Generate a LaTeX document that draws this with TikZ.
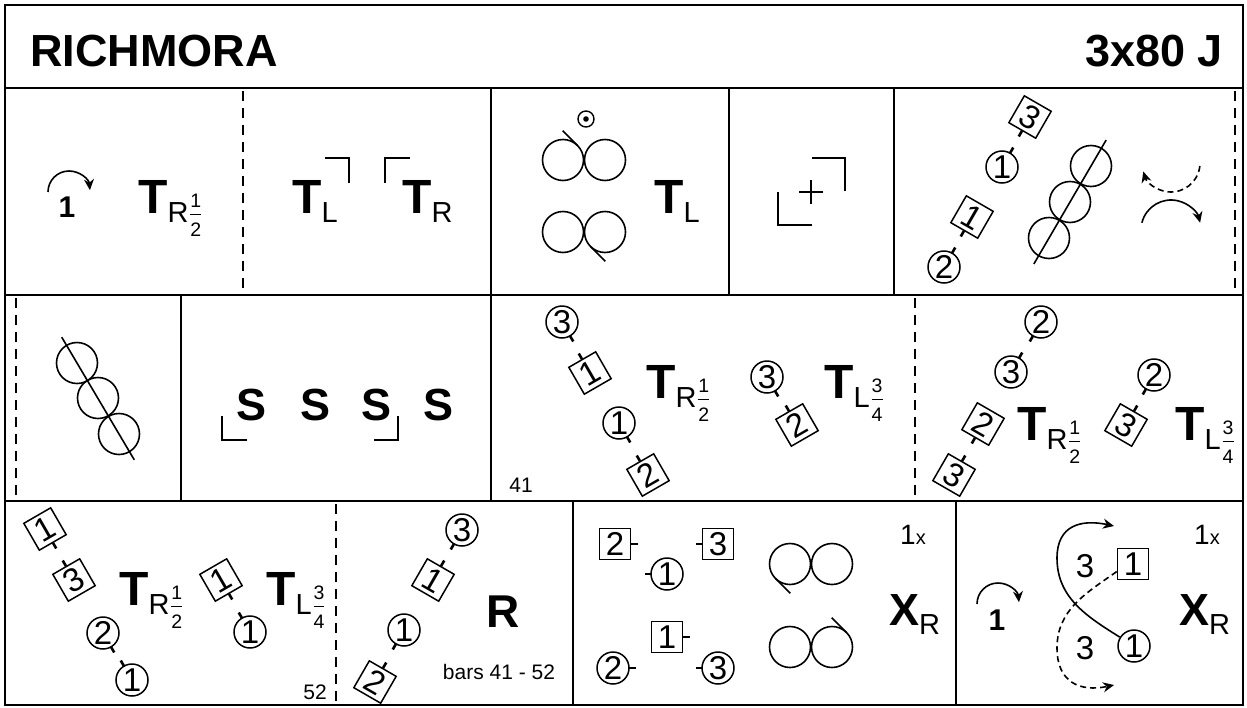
\documentclass[tikz,border=0pt]{standalone}
\usepackage{fontspec}
\setmainfont{Liberation Sans}
\usetikzlibrary{arrows.meta,calc}

\newcommand{\titlefont}{\fontsize{45}{45}\selectfont\bfseries}
\newcommand{\bigfig}{\fontsize{48}{48}\selectfont\bfseries}
\newcommand{\subfig}{\fontsize{29}{29}\selectfont}
\newcommand{\frfig}{\fontsize{19.5}{19.5}\selectfont}
\newcommand{\dfont}{\fontsize{33}{33}\selectfont}
\newcommand{\onefont}{\fontsize{30}{30}\selectfont\bfseries}
\newcommand{\smallfig}{\fontsize{21}{21}\selectfont}
% stacked fraction behind a sub letter
\newcommand{\frc}[2]{\kern2pt{\frfig\setbox0\hbox{#1}%
  \rlap{\raisebox{15pt}{#1}}\rlap{\raisebox{7pt}{\rule{\wd0}{1pt}}}\raisebox{-14pt}{#2}}}
\newcommand{\Tfig}[1]{{\bigfig T}\raisebox{-9pt}{\subfig #1}}
\newcommand{\nose}[2]{\draw[nose] (#1.center) ++(#2:16) -- ++(#2:6.5);}

\begin{document}
\begin{tikzpicture}[x=1pt, y=1pt,
    cell/.style={line width=2.2pt},
    cut/.style={line width=1.6pt, dash pattern=on 10pt off 7pt},
    brk/.style={line width=1.6pt},
    man/.style={draw, rectangle, minimum size=31pt, inner sep=0pt, line width=1.5pt, font=\dfont},
    lady/.style={draw, circle, minimum size=32pt, inner sep=0pt, line width=1.5pt, font=\dfont},
    nose/.style={line width=2.6pt},
    ring/.style={draw, circle, minimum size=41pt, inner sep=0pt, line width=1.6pt},
    loopline/.style={line width=1.6pt},
    txt/.style={inner sep=0pt, anchor=base},
    tfig/.style={inner sep=0pt, anchor=base west},
    turn/.style={line width=1.6pt, -{Stealth[length=11pt,width=10pt]}},
    shortdash/.style={dash pattern=on 6pt off 4pt}
  ]
  \useasboundingbox (0,0) rectangle (1247,-707);

  % frame and cells
  \draw[cell] (5,-5) rectangle (1243,-705);
  \foreach \y in {88,295,501} \draw[cell] (5,-\y) -- (1243,-\y);
  \foreach \x in {491,729,894} \draw[cell] (\x,-88) -- (\x,-295);
  \foreach \x in {181,491} \draw[cell] (\x,-295) -- (\x,-501);
  \foreach \x in {573,956} \draw[cell] (\x,-501) -- (\x,-705);
  \foreach \x in {243,1235} \draw[cut] (\x,-91) -- (\x,-290);
  \foreach \x in {16,915} \draw[cut] (\x,-298) -- (\x,-497);
  \draw[cut] (336,-504) -- (336,-703);

  % title
  \node[txt, anchor=base west, font=\titlefont] (title) at (30,-66) {RICHMORA};
  \node[txt, anchor=base east, font=\titlefont] (tempo) at (1223,-66) {3x80 J};

  % row 1
  \draw[turn] (69,-192) ++(180:21) arc[start angle=180, end angle=5, radius=21];
  \node[txt, font=\onefont] (a1) at (67,-217) {1};
  \node[tfig] (aT) at (138,-213) {\Tfig{R\frc{1}{2}}};

  \node[tfig] (bTL) at (292,-213) {\Tfig{L}};
  \draw[brk] (325,-158) -- (349,-158) -- (349,-183);
  \draw[brk] (385,-183) -- (385,-158) -- (410,-158);
  \node[tfig] (bTR) at (402,-213) {\Tfig{R}};

  \node[draw, circle, minimum size=16pt, inner sep=0pt, line width=1.4pt] (cTop) at (586,-119) {};
  \fill (cTop.center) circle (2.8);
  \node[ring] (cA) at (563,-160) {};
  \node[ring] (cB) at (605,-160) {};
  \draw[loopline] (cA.center) ++(45:20.5) -- ++(135:21);
  \node[ring] (cC) at (563,-232) {};
  \node[ring] (cD) at (605,-232) {};
  \draw[loopline] (cD.center) ++(225:20.5) -- ++(-45:21);
  \node[tfig] (cT) at (654,-213) {\Tfig{L}};

  \draw[brk] (778,-192) -- (778,-225) -- (812,-225);
  \draw[brk] (812,-158) -- (845,-158) -- (845,-191);
  \draw[brk] (799,-192) -- (823,-192);
  \draw[brk] (811,-180) -- (811,-204);

  \node[lady] (e2) at (944,-267) {2};
  \node[man, rotate=-30] (e1m) at (972,-217) {1};
  \node[lady] (e1) at (1002,-167) {1};
  \node[man, rotate=-30] (e3m) at (1030,-117) {3};
  \nose{e2}{60} \nose{e1m}{240} \nose{e1}{60} \nose{e3m}{240}
  \node[ring] (eA) at (1091,-166) {};
  \node[ring] (eB) at (1070,-202) {};
  \node[ring] (eC) at (1049,-238) {};
  \draw[loopline] ($(eA)!-30pt!(eC)$) -- ($(eC)!-30pt!(eA)$);
  \draw[turn, shortdash] (1171,-163) ++(-6:29) arc[start angle=-6, end angle=-163, radius=29];
  \draw[turn] (1171,-230) ++(166:30) arc[start angle=166, end angle=14, radius=30];

  % row 2
  \node[ring] (fA) at (77,-363) {};
  \node[ring] (fB) at (98,-398) {};
  \node[ring] (fC) at (119,-434) {};
  \draw[loopline] ($(fA)!-30pt!(fC)$) -- ($(fC)!-30pt!(fA)$);

  \foreach \x/\n in {252/s1, 316/s2, 377/s3, 439/s4}
    \node[txt, font=\fontsize{45}{45}\selectfont\bfseries] (\n) at (\x,-420) {S};
  \draw[brk] (222,-416) -- (222,-440) -- (247,-440);
  \draw[brk] (374,-440) -- (398,-440) -- (398,-416);

  \node[lady] (h3) at (562,-322) {3};
  \node[man, rotate=30] (h1m) at (590,-373) {1};
  \node[lady] (h1) at (619,-423) {1};
  \node[man, rotate=30] (h2m) at (648,-475) {2};
  \nose{h3}{-60} \nose{h1m}{120} \nose{h1}{-60} \nose{h2m}{120}
  \node[tfig] (hT) at (646,-398) {\Tfig{R\frc{1}{2}}};
  \node[lady] (h3b) at (767,-377) {3};
  \node[man, rotate=30] (h2mb) at (797,-425) {2};
  \nose{h3b}{-60} \nose{h2mb}{120}
  \node[tfig] (hTb) at (824,-398) {\Tfig{L\frc{3}{4}}};
  \node[txt, font=\smallfig] (bar41) at (521,-492) {41};

  \node[lady] (i2) at (1041,-322) {2};
  \node[lady] (i3) at (1011,-372) {3};
  \node[man, rotate=-30] (i2m) at (983,-424) {2};
  \node[man, rotate=-30] (i3m) at (954,-475) {3};
  \nose{i2}{240} \nose{i3}{60} \nose{i2m}{240} \nose{i3m}{60}
  \node[tfig] (iT) at (1017,-440) {\Tfig{R\frc{1}{2}}};
  \node[lady] (i2b) at (1154,-375) {2};
  \node[man, rotate=-30] (i3mb) at (1126,-425) {3};
  \nose{i2b}{240} \nose{i3mb}{60}
  \node[tfig] (iTb) at (1175,-440) {\Tfig{L\frc{3}{4}}};

  % row 3
  \node[man, rotate=30] (j1m) at (45,-529) {1};
  \node[man, rotate=30] (j3m) at (74,-580) {3};
  \node[lady] (j2) at (103,-633) {2};
  \node[lady] (j1) at (132,-680) {1};
  \nose{j1m}{-60} \nose{j3m}{120} \nose{j2}{-60} \nose{j1}{120}
  \node[tfig] (jT) at (119,-605) {\Tfig{R\frc{1}{2}}};
  \node[man, rotate=30] (j1mb) at (221,-580) {1};
  \node[lady] (j1b) at (250,-632) {1};
  \nose{j1mb}{-60} \nose{j1b}{120}
  \node[tfig] (jTb) at (266,-605) {\Tfig{L\frc{3}{4}}};
  \node[txt, font=\smallfig] (bar52) at (315,-699) {52};

  \node[lady] (j3) at (462,-530) {3};
  \node[man, rotate=-30] (j1mc) at (433,-580) {1};
  \node[lady] (j1c) at (404,-630) {1};
  \node[man, rotate=-30] (j2mc) at (375,-682) {2};
  \nose{j3}{240} \nose{j1mc}{60} \nose{j1c}{240} \nose{j2mc}{60}
  \node[txt, font=\fontsize{46}{46}\selectfont\bfseries] (jR) at (503,-627) {R};
  \node[txt, font=\smallfig] (bars) at (499,-679) {bars 41 - 52};

  \node[man] (k2m) at (615,-544) {2};
  \node[lady] (k1) at (667,-574) {1};
  \node[man] (k3m) at (718,-544) {3};
  \node[man] (k1m) at (667,-637) {1};
  \node[lady] (k2) at (613,-668) {2};
  \node[lady] (k3) at (718,-668) {3};
  \nose{k2m}{0} \nose{k1}{180} \nose{k3m}{180} \nose{k1m}{0} \nose{k2}{0} \nose{k3}{180}
  \node[ring] (kA) at (790,-564) {};
  \node[ring] (kB) at (832,-564) {};
  \draw[loopline] (kA.center) ++(225:20.5) -- ++(-45:21);
  \node[ring] (kC) at (790,-647) {};
  \node[ring] (kD) at (832,-647) {};
  \draw[loopline] (kD.center) ++(45:20.5) -- ++(135:21);
  \node[tfig] (k1x) at (900,-544) {\fontsize{28}{28}\selectfont 1{\fontsize{20}{20}\selectfont x}};
  \node[tfig] (kX) at (889,-625) {{\fontsize{45}{45}\selectfont\bfseries X}\raisebox{-9pt}{\subfig R}};

  \draw[turn] (998,-604) ++(180:21) arc[start angle=180, end angle=5, radius=21];
  \node[txt, font=\onefont] (l1one) at (997,-630) {1};
  \node[man] (l1m) at (1133,-564) {1};
  \node[lady] (l1) at (1134,-646) {1};
  \node[txt, font=\dfont] (l3a) at (1085,-577) {3};
  \node[txt, font=\dfont] (l3b) at (1085,-659) {3};
  \coordinate (sW) at (1057,-558);
  \coordinate (sEnd) at (1114,-526);
  \coordinate (dW) at (1057,-648);
  \coordinate (dEnd) at (1114,-685);
  \draw[turn] (l1.148) to[out=148, in=270] (sW) to[out=90, in=168, looseness=1.3] (sEnd);
  \draw[turn, shortdash] (l1m.205) to[out=215, in=90] (dW) to[out=270, in=192, looseness=1.3] (dEnd);
  \node[tfig] (l1x) at (1194,-544) {\fontsize{28}{28}\selectfont 1{\fontsize{20}{20}\selectfont x}};
  \node[tfig] (lX) at (1179,-625) {{\fontsize{45}{45}\selectfont\bfseries X}\raisebox{-9pt}{\subfig R}};
\end{tikzpicture}
\end{document}
